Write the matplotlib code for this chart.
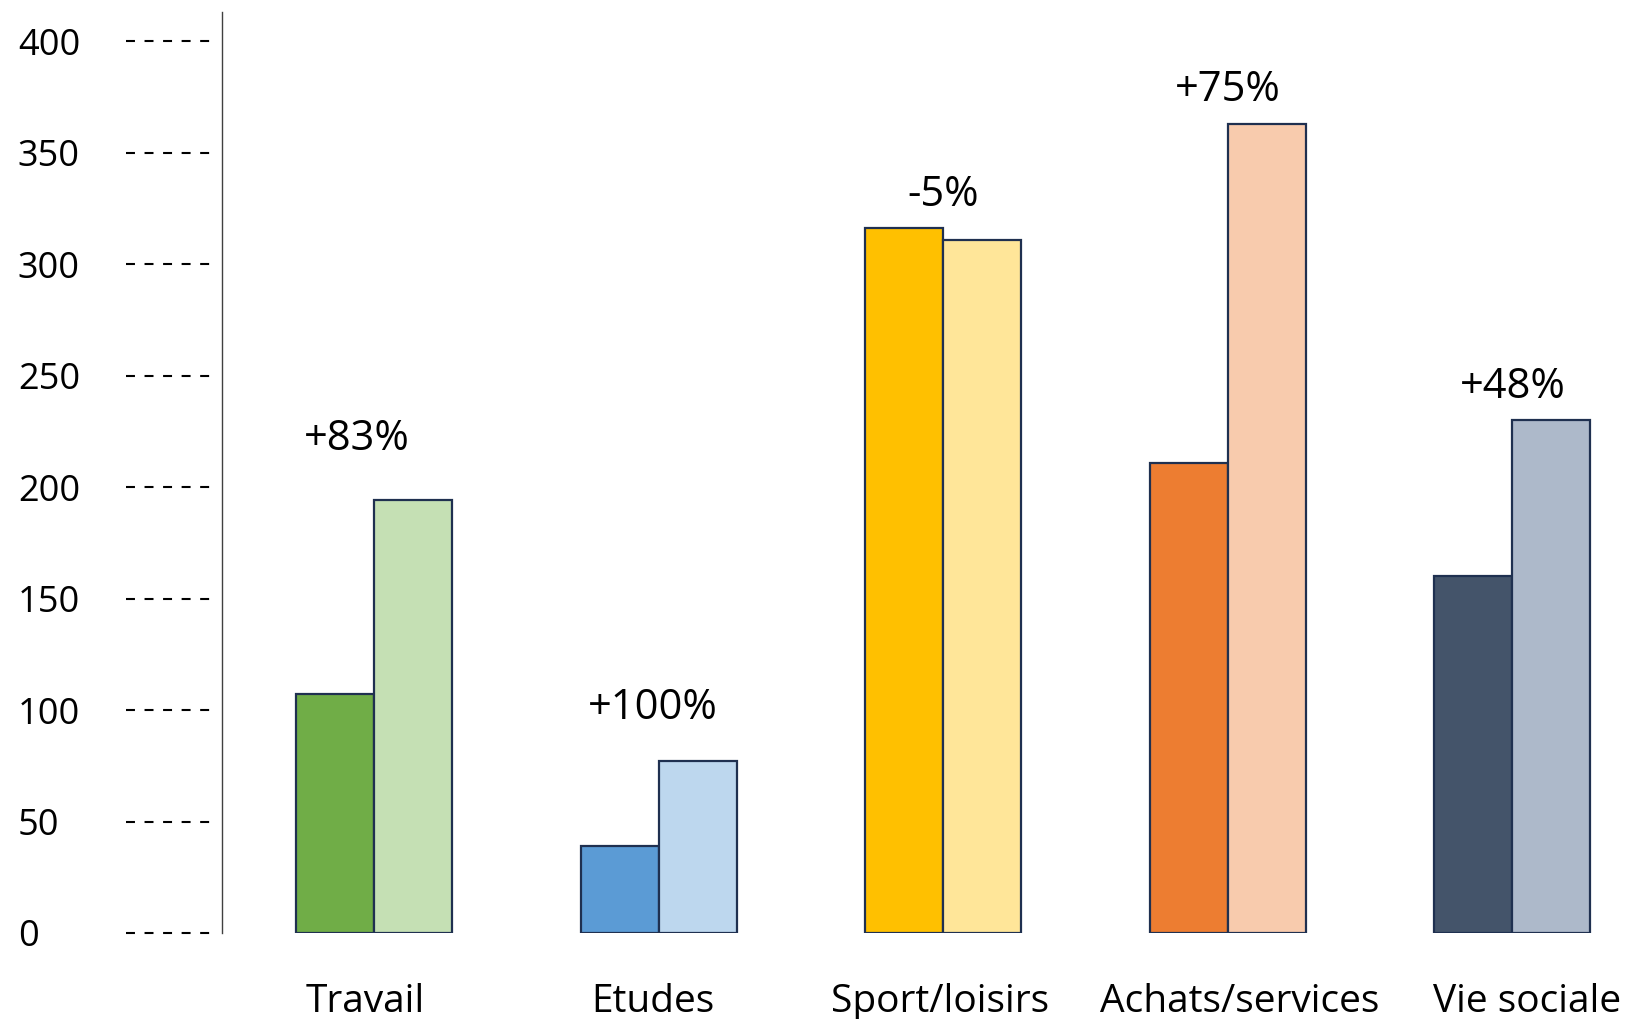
import numpy as np
import matplotlib
matplotlib.use('Agg')
import matplotlib.pyplot as plt

plt.rcParams['font.family'] = ['Open Sans', 'DejaVu Sans']

# data
categories = ['Travail', 'Etudes', 'Sport/loisirs', 'Achats/services', 'Vie sociale']
before = [107, 39, 316, 211, 160]
after = [194, 77, 311, 363, 230]
changes = ['+83%', '+100%', '-5%', '+75%', '+48%']
dark_colors = ['#70AD47', '#5B9BD5', '#FFC000', '#ED7D31', '#44546A']
light_colors = ['#C5E0B4', '#BDD7EE', '#FFE699', '#F8CBAD', '#ADB9CA']
yticks = [0, 50, 100, 150, 200, 250, 300, 350, 400]

# layout tweaks (label placement in the original is a bit uneven)
label_lift = [29, 23, 9, 9, 9]
label_shift = [-0.06, -0.02, 0.0, 0.0, 0.0]
cat_shift = [-0.03, -0.02, -0.01, 0.04, 0.05]

edge = '#1F3050'
w = 0.274
x = np.arange(len(categories))

fig = plt.figure(figsize=(16.32, 10.19), dpi=100)
ax = fig.add_axes([0.136, 0.0844, 0.864, 0.9036])

ax.bar(x - w / 2, before, w, color=dark_colors, edgecolor=edge, linewidth=1.6)
ax.bar(x + w / 2, after, w, color=light_colors, edgecolor=edge, linewidth=1.6)

for xi, b, a, lab, lift, sh in zip(x, before, after, changes, label_lift, label_shift):
    ax.annotate(lab, (xi + sh, max(a, b)), xytext=(0, lift),
                textcoords='offset points', ha='center', va='bottom',
                fontsize=30)

ax.set_xlim(-0.534, 4.42)
ax.set_ylim(0, 413)

ax.set_xticks(x + np.array(cat_shift))
ax.set_xticklabels(categories, fontsize=28)
ax.tick_params(axis='x', length=0, pad=36)

ax.set_yticks(yticks)
ax.set_yticklabels([str(v) for v in yticks], fontsize=26, ha='left')
ax.tick_params(axis='y', length=0, pad=147)

# dashed tick marks left of the axis
ax.hlines(yticks, -0.068, -0.003, transform=ax.get_yaxis_transform(),
          colors='black', linewidth=1.5, linestyles=(0, (4.3, 4.6)),
          clip_on=False)

for s in ['top', 'right', 'bottom']:
    ax.spines[s].set_visible(False)
ax.spines['left'].set_color('#404040')
ax.spines['left'].set_linewidth(1.0)

fig.savefig('out.png', dpi=100)
